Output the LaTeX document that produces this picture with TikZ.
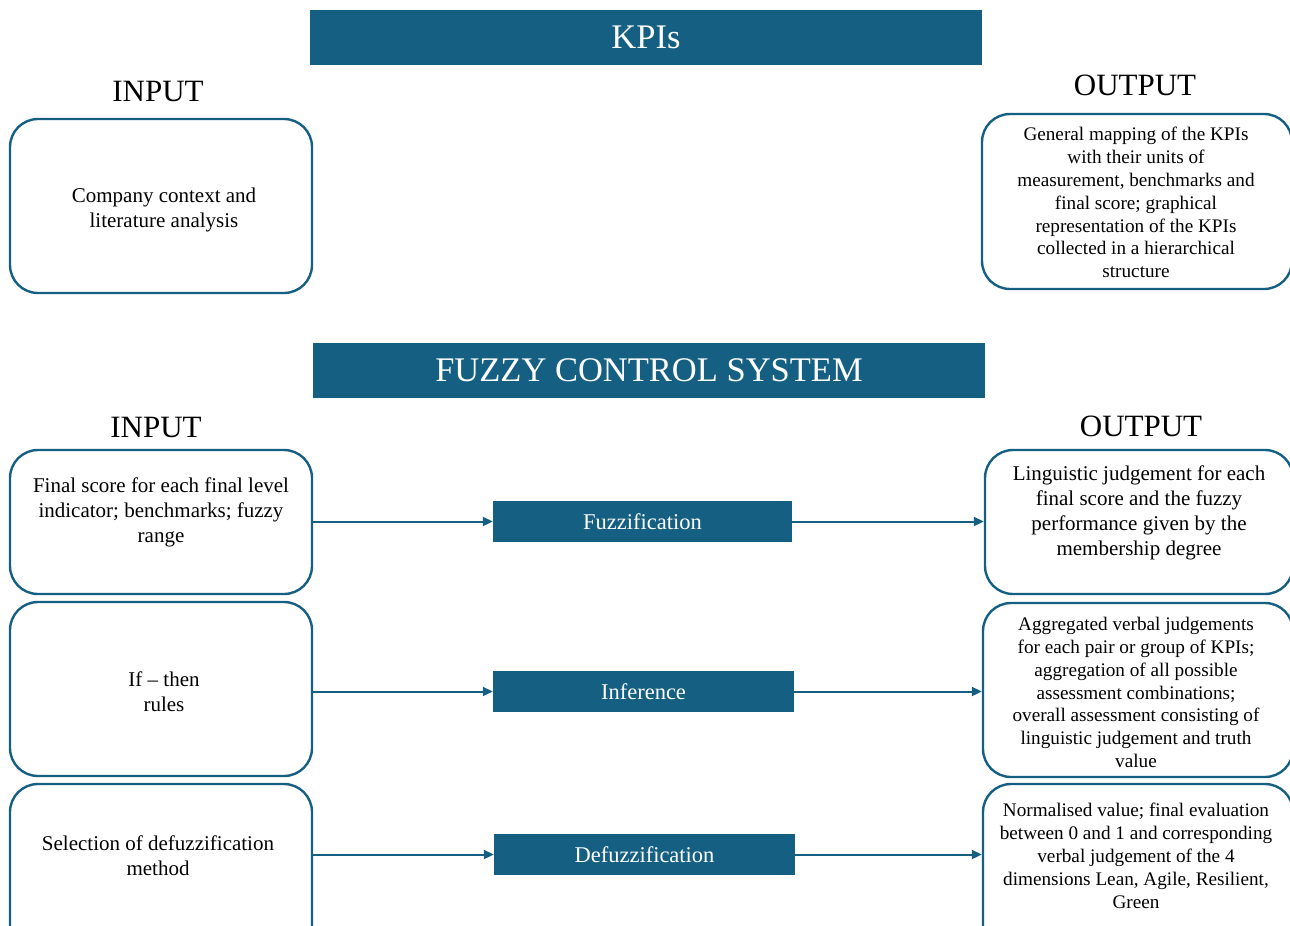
\documentclass[tikz,border=0pt]{standalone}
\usepackage{fontspec}
\setmainfont{Liberation Serif}
\usetikzlibrary{arrows.meta,calc}
\definecolor{kpiblue}{HTML}{156082}
\tikzset{
  roundbox/.style={draw=kpiblue, line width=2.4pt, rounded corners=28pt, fill=white, inner sep=0pt},
  bigtext/.style={align=center, inner sep=0pt, font=\fontsize{21}{25}\selectfont},
  smalltext/.style={align=center, inner sep=0pt, font=\fontsize{19.2}{22.9}\selectfont},
  banner/.style={fill=kpiblue, text=white, inner sep=0pt, align=center,
    font=\fontsize{34.5}{38}\selectfont},
  stepbox/.style={fill=kpiblue, text=white, inner sep=0pt, align=center,
    font=\fontsize{22.5}{26}\selectfont},
  heading/.style={font=\fontsize{31}{34}\selectfont, inner sep=0pt},
  flow/.style={draw=kpiblue, line width=2pt, -{Triangle[length=10pt,width=9pt]}}
}
\begin{document}
\begin{tikzpicture}[x=1pt,y=-1pt]
\useasboundingbox (0,0) rectangle (1290,926);
\clip (0,0) rectangle (1290,926);

% KPIs section
\node[banner, minimum width=672pt, minimum height=55pt] (kpi) at (646,37.5) {KPIs};
\node[heading] (kin) at (158,92) {INPUT};
\node[heading] (kout) at (1135,85) {OUTPUT};
\node[roundbox, minimum width=302pt, minimum height=174pt] (kbin) at (161,206) {};
\node[bigtext] (kbint) at ($(kbin.center)+(3,3.5)$) {Company context and\\literature analysis};
\node[roundbox, minimum width=310pt, minimum height=175pt] (kbout) at (1137,201.5) {};
\node[smalltext] (kboutt) at ($(kbout.center)+(-1,1)$)
  {General mapping of the KPIs\\with their units of\\measurement, benchmarks and\\final score; graphical\\representation of the KPIs\\collected in a hierarchical\\structure};

% Fuzzy control system section
\node[banner, minimum width=672pt, minimum height=55pt] (fcs) at (649,370.5) {FUZZY CONTROL SYSTEM};
\node[heading] (fin) at (156,427) {INPUT};
\node[heading] (fout) at (1141,426) {OUTPUT};

\node[roundbox, minimum width=302pt, minimum height=144pt] (in1) at (161,522) {};
\node[bigtext] (in1t) at ($(in1.center)+(0,-10)$)
  {Final score for each final level\\indicator; benchmarks; fuzzy\\range};
\node[roundbox, minimum width=302pt, minimum height=174pt] (in2) at (161,689) {};
\node[bigtext] (in2t) at ($(in2.center)+(3,2.5)$) {If -- then\\rules};
\node[roundbox, minimum width=302pt, minimum height=174pt] (in3) at (161,871) {};
\node[bigtext] (in3t) at ($(in3.center)+(-3,-15)$) {Selection of defuzzification\\method};

\node[roundbox, minimum width=308pt, minimum height=144pt] (out1) at (1139,522) {};
\node[bigtext] (out1t) at ($(out1.center)+(0,-9.5)$)
  {Linguistic judgement for each\\final score and the fuzzy\\performance given by the\\membership degree};
\node[roundbox, minimum width=310pt, minimum height=174pt] (out2) at (1138,690) {};
\node[smalltext] (out2t) at ($(out2.center)+(-2,2.5)$)
  {Aggregated verbal judgements\\for each pair or group of KPIs;\\aggregation of all possible\\assessment combinations;\\overall assessment consisting of\\linguistic judgement and truth\\value};
\node[roundbox, minimum width=310pt, minimum height=174pt] (out3) at (1138,871) {};
\node[smalltext] (out3t) at ($(out3.center)+(-2,-15)$)
  {Normalised value; final evaluation\\between 0 and 1 and corresponding\\verbal judgement of the 4\\dimensions Lean, Agile, Resilient,\\Green};

\node[stepbox, minimum width=299pt, minimum height=41pt] (fuz) at (642.5,521.5) {Fuzzification};
\node[stepbox, minimum width=301pt, minimum height=41pt] (inf) at (643.5,691.5) {Inference};
\node[stepbox, minimum width=301pt, minimum height=41pt] (def) at (644.5,854.5) {Defuzzification};

% connectors
\draw[flow] (in1.east |- fuz.west) -- (fuz.west);
\draw[flow] (fuz.east) -- (out1.west |- fuz.east);
\draw[flow] (in2.east |- inf.west) -- (inf.west);
\draw[flow] (inf.east) -- (out2.west |- inf.east);
\draw[flow] (in3.east |- def.west) -- (def.west);
\draw[flow] (def.east) -- (out3.west |- def.east);
\end{tikzpicture}
\end{document}
